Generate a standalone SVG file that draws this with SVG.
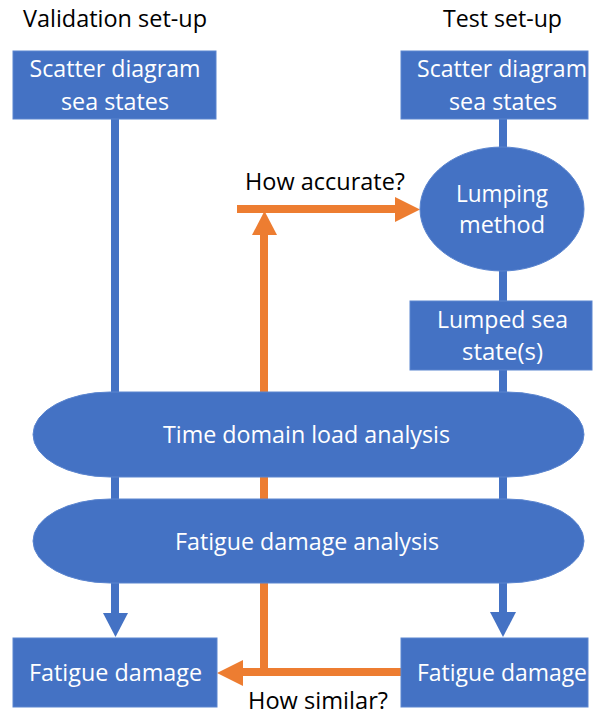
<svg xmlns="http://www.w3.org/2000/svg" width="594" height="715" viewBox="0 0 594 715">
<style>
.n{fill:#4472C4;stroke:#5B85CF;stroke-width:1}
.wt{fill:#FFFFFF;font-family:"Open Sans","Liberation Sans",sans-serif;font-size:23px;text-anchor:middle}
.bt{fill:#000000;font-family:"Open Sans","Liberation Sans",sans-serif;font-size:23px;text-anchor:middle}
.bl{stroke:#4472C4;stroke-width:8;fill:none}
.bh{fill:#4472C4}
.ol{stroke:#ED7D31;stroke-width:8;fill:none}
.oh{fill:#ED7D31}
</style>
<rect width="594" height="715" fill="#FFFFFF"/>
<text class="bt" x="115" y="27" textLength="184" lengthAdjust="spacingAndGlyphs">Validation set-up</text>
<text class="bt" x="502.5" y="27" textLength="119" lengthAdjust="spacingAndGlyphs">Test set-up</text>
<g id="connectors">
  <line class="bl" x1="115" y1="119" x2="115" y2="614"/>
  <polygon class="bh" points="103,613 128,613 115.5,637"/>
  <line class="bl" x1="503" y1="119" x2="503" y2="614"/>
  <polygon class="bh" points="490,612 516,612 503,637"/>
  <line class="ol" x1="264" y1="676" x2="264" y2="234"/>
  <polygon class="oh" points="252,235 277,235 264.5,211"/>
  <line class="ol" x1="237" y1="209" x2="396" y2="209"/>
  <polygon class="oh" points="395,197 395,222 420,209.5"/>
  <line class="ol" x1="401" y1="672" x2="242" y2="672"/>
  <polygon class="oh" points="243,660 243,686 217,673"/>
</g>
<text class="bt" x="325" y="190" textLength="160" lengthAdjust="spacingAndGlyphs">How accurate?</text>
<text class="bt" x="318" y="709" textLength="140" lengthAdjust="spacingAndGlyphs">How similar?</text>
<g id="scatter-validation">
  <rect class="n" x="13" y="51" width="203" height="68"/>
  <text class="wt" x="115" y="77" textLength="171" lengthAdjust="spacingAndGlyphs">Scatter diagram</text>
  <text class="wt" x="115" y="110" textLength="108" lengthAdjust="spacingAndGlyphs">sea states</text>
</g>
<g id="scatter-test">
  <rect class="n" x="401" y="51" width="187" height="68"/>
  <text class="wt" x="502" y="77" textLength="170" lengthAdjust="spacingAndGlyphs">Scatter diagram</text>
  <text class="wt" x="503" y="110" textLength="108" lengthAdjust="spacingAndGlyphs">sea states</text>
</g>
<g id="lumping-method">
  <ellipse class="n" cx="502" cy="209" rx="82" ry="62"/>
  <text class="wt" x="502" y="202" textLength="92" lengthAdjust="spacingAndGlyphs">Lumping</text>
  <text class="wt" x="502" y="233" textLength="86" lengthAdjust="spacingAndGlyphs">method</text>
</g>
<g id="lumped-sea-states">
  <rect class="n" x="410" y="301" width="182" height="69"/>
  <text class="wt" x="502.5" y="328" textLength="131" lengthAdjust="spacingAndGlyphs">Lumped sea</text>
  <text class="wt" x="502.5" y="360" textLength="81" lengthAdjust="spacingAndGlyphs">state(s)</text>
</g>
<g id="time-domain">
  <path class="n" d="M110,392 H507 A77,42.5 0 0 1 507,477 H110 A77,42.5 0 0 1 110,392 Z"/>
  <text class="wt" x="306.5" y="443" textLength="287" lengthAdjust="spacingAndGlyphs">Time domain load analysis</text>
</g>
<g id="fatigue-analysis">
  <path class="n" d="M110,499 H507 A77,42 0 0 1 507,583 H110 A77,42 0 0 1 110,499 Z"/>
  <text class="wt" x="307" y="550" textLength="264" lengthAdjust="spacingAndGlyphs">Fatigue damage analysis</text>
</g>
<g id="fatigue-validation">
  <rect class="n" x="13" y="638" width="204" height="69"/>
  <text class="wt" x="115.5" y="681" textLength="173" lengthAdjust="spacingAndGlyphs">Fatigue damage</text>
</g>
<g id="fatigue-test">
  <rect class="n" x="401" y="638" width="187" height="69"/>
  <text class="wt" x="502" y="681" textLength="170" lengthAdjust="spacingAndGlyphs">Fatigue damage</text>
</g>
</svg>
